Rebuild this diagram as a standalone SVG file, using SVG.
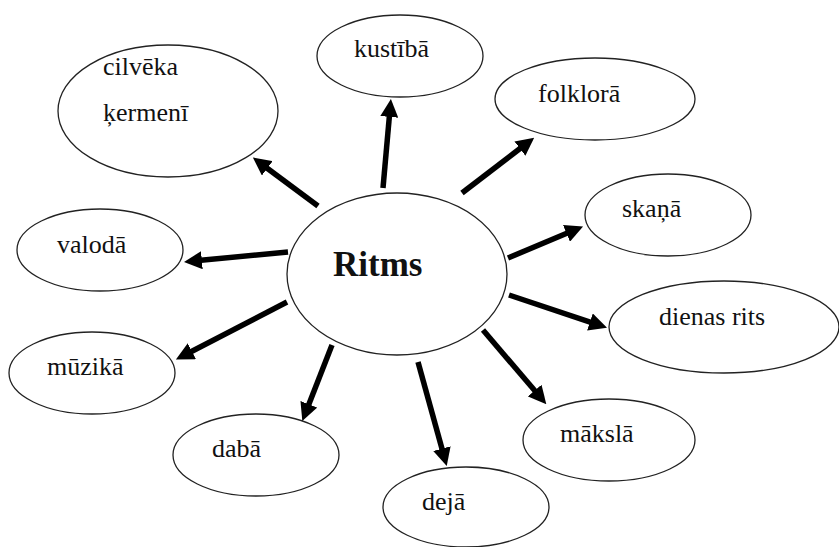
<svg xmlns="http://www.w3.org/2000/svg" width="839" height="547" viewBox="0 0 839 547">
<style>
.n ellipse{fill:#fff;stroke:#222;stroke-width:1.3}
.n text{font-family:"Liberation Serif","Times New Roman",serif;font-size:26px;fill:#111}
#ritms text{font-size:35px;font-weight:bold}
.c line{stroke:#000;stroke-width:5.5;marker-end:url(#ah)}
</style>
<defs>
<marker id="ah" viewBox="0 0 18 18" refX="1" refY="9" markerWidth="18" markerHeight="18" markerUnits="userSpaceOnUse" orient="auto">
<path d="M0,0 L18,9 L0,18 z" fill="#000"/>
</marker>
</defs>
<rect width="839" height="547" fill="#fff"/>
<g class="n" id="cilveka"><ellipse cx="168" cy="111" rx="110" ry="66"/><text x="103" y="75">cilvēka</text><text x="103" y="121">ķermenī</text></g>
<g class="n" id="kustiba"><ellipse cx="400" cy="56" rx="83" ry="41"/><text x="354" y="57">kustībā</text></g>
<g class="n" id="folklora"><ellipse cx="595" cy="99" rx="100" ry="41"/><text x="538" y="102">folklorā</text></g>
<g class="n" id="skana"><ellipse cx="668" cy="215" rx="83" ry="41"/><text x="622" y="217">skaņā</text></g>
<g class="n" id="dienas"><ellipse cx="724" cy="327" rx="115" ry="46"/><text x="659" y="325">dienas rits</text></g>
<g class="n" id="maksla"><ellipse cx="609" cy="440" rx="86" ry="41"/><text x="560" y="442">mākslā</text></g>
<g class="n" id="deja"><ellipse cx="466" cy="507" rx="83" ry="40"/><text x="422" y="510">dejā</text></g>
<g class="n" id="daba"><ellipse cx="256" cy="455" rx="83" ry="41"/><text x="212" y="457">dabā</text></g>
<g class="n" id="muzika"><ellipse cx="92" cy="373" rx="83" ry="41"/><text x="47" y="375">mūzikā</text></g>
<g class="n" id="valoda"><ellipse cx="100" cy="250" rx="83" ry="41"/><text x="57" y="253">valodā</text></g>
<g class="n" id="ritms"><ellipse cx="397" cy="274" rx="110" ry="81"/><text x="333" y="276">Ritms</text></g>
<g class="c" id="connectors">
<line x1="318" y1="206" x2="266.5" y2="167.7"/>
<line x1="383" y1="188" x2="389.4" y2="115.9"/>
<line x1="462" y1="193" x2="520.7" y2="148"/>
<line x1="508" y1="258" x2="567.4" y2="233"/>
<line x1="509" y1="295" x2="590.9" y2="322.3"/>
<line x1="483" y1="330" x2="535.3" y2="391.3"/>
<line x1="418" y1="362" x2="442.2" y2="449.6"/>
<line x1="332" y1="345" x2="308.5" y2="405.2"/>
<line x1="287" y1="302" x2="191" y2="351.7"/>
<line x1="288" y1="252" x2="200.9" y2="260.3"/>
</g>
</svg>
